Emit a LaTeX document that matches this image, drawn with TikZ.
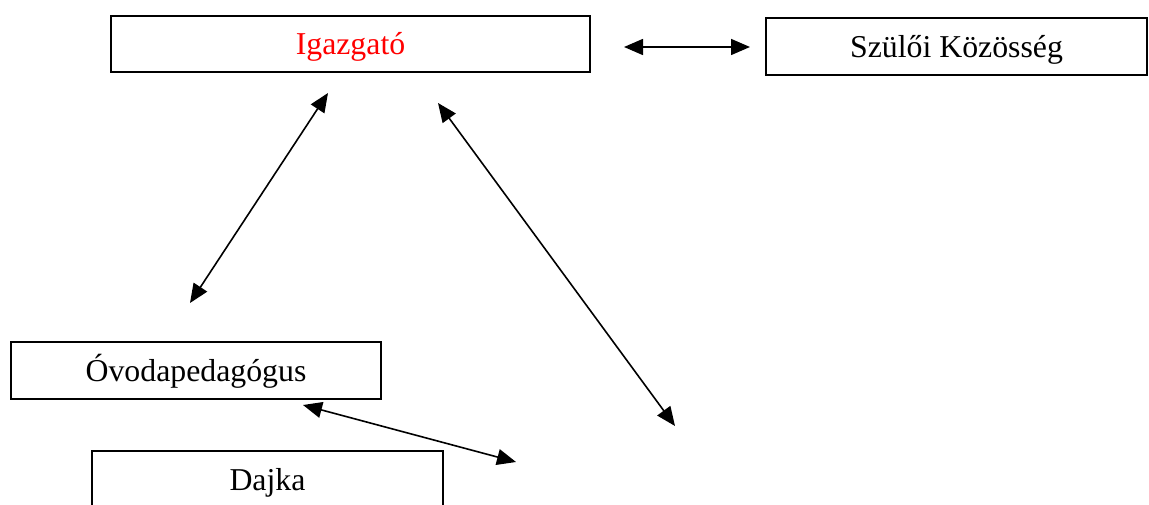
\documentclass[tikz,border=0pt]{standalone}
\usepackage{fontspec}
\setmainfont{Liberation Serif}
\usetikzlibrary{arrows.meta}
\begin{document}
\begin{tikzpicture}[x=1pt,y=-1pt,
  box/.style={draw,line width=1.6pt,inner sep=0pt,anchor=center,
    text height=30pt,text depth=8pt,
    font=\fontsize{31.8}{38}\selectfont},
  link/.style={line width=1.6pt,{Triangle[length=19pt,width=16pt]}-{Triangle[length=19pt,width=16pt]}}]
\clip (0,0) rectangle (1149,505);
\fill[white] (0,0) rectangle (1149,505);
\node[box,minimum width=479pt,minimum height=56pt,text=red] (ig) at (350.5,44) {Igazgató};
\node[box,minimum width=381pt,minimum height=57pt] (sz) at (956.5,46.5) {Szülői Közösség};
\node[box,minimum width=370pt,minimum height=57pt] (ov) at (196,370.5) {Óvodapedagógus};
\node[box,minimum width=351pt,minimum height=57pt] (da) at (267.5,479.5) {Dajka};
\coordinate (a1) at (624,47);
\coordinate (b1) at (750,47);
\coordinate (a2) at (328,93);
\coordinate (b2) at (190,303);
\coordinate (a3) at (438,103);
\coordinate (b3) at (675,426);
\coordinate (a4) at (303,405);
\coordinate (b4) at (516,462);
\draw[link] (a1) -- (b1);
\draw[link] (a2) -- (b2);
\draw[link] (a3) -- (b3);
\draw[link] (a4) -- (b4);
\end{tikzpicture}
\end{document}
